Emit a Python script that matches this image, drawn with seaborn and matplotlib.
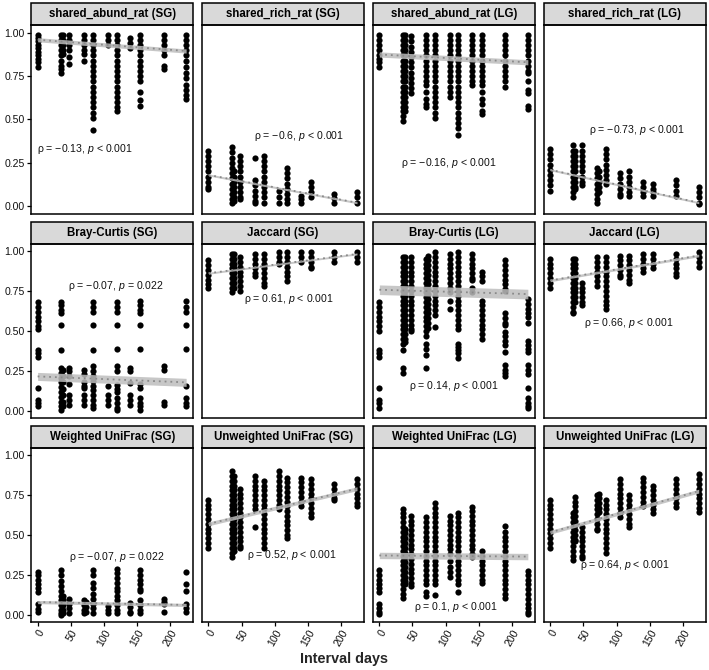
import pandas as pd
import matplotlib.pyplot as plt
import seaborn as sns
from matplotlib.patches import Rectangle

sns.set_theme(style="white")
plt.rcParams['font.family'] = ['Liberation Sans', 'DejaVu Sans']
plt.rcParams['mathtext.fontset'] = 'custom'
plt.rcParams['mathtext.rm'] = 'Liberation Sans'
plt.rcParams['mathtext.it'] = 'Liberation Sans:italic'

# interval days at which pairs were compared
days = [0, 35, 38, 48, 70, 73, 84, 106, 119, 140, 155, 190, 224]

titles = ['shared_abund_rat (SG)', 'shared_rich_rat (SG)', 'shared_abund_rat (LG)', 'shared_rich_rat (LG)',
          'Bray-Curtis (SG)', 'Jaccard (SG)', 'Bray-Curtis (LG)', 'Jaccard (LG)',
          'Weighted UniFrac (SG)', 'Unweighted UniFrac (SG)', 'Weighted UniFrac (LG)', 'Unweighted UniFrac (LG)']

# one list of y values per interval day (same order as days)
abund_sg = [[0.99, 0.97, 0.95, 0.93, 0.91, 0.89, 0.87, 0.85, 0.83, 0.80],
            [0.99, 0.96, 0.93, 0.90, 0.87, 0.84, 0.81, 0.79, 0.77],
            [0.99, 0.96, 0.93, 0.90, 0.88],
            [0.99, 0.96, 0.93, 0.90, 0.86, 0.82],
            [0.99, 0.96, 0.93, 0.90, 0.88, 0.84],
            [],
            [0.99, 0.96, 0.93, 0.90, 0.87, 0.84, 0.81, 0.78, 0.75, 0.72, 0.69, 0.66, 0.63, 0.60, 0.57, 0.54, 0.51, 0.44],
            [0.99, 0.96, 0.93],
            [0.99, 0.96, 0.93, 0.90, 0.87, 0.84, 0.81, 0.78, 0.75, 0.72, 0.69, 0.66, 0.63, 0.60, 0.57, 0.55],
            [0.97, 0.94, 0.91],
            [0.99, 0.96, 0.93, 0.90, 0.87, 0.84, 0.81, 0.78, 0.75, 0.72, 0.66, 0.61, 0.58],
            [0.99, 0.96, 0.93, 0.90, 0.87, 0.81, 0.79],
            [0.99, 0.96, 0.93, 0.90, 0.87, 0.84, 0.80, 0.77, 0.74, 0.70, 0.67, 0.64, 0.62]]

rich_sg = [[0.32, 0.29, 0.26, 0.23, 0.20, 0.17, 0.14, 0.11, 0.10],
           [0.34, 0.31, 0.28, 0.25, 0.22, 0.19, 0.16, 0.13, 0.10, 0.07, 0.04, 0.02],
           [0.20, 0.17, 0.14, 0.11, 0.08, 0.05, 0.03],
           [0.29, 0.26, 0.23, 0.20, 0.17, 0.14, 0.11, 0.08, 0.05, 0.04],
           [0.275, 0.15, 0.12, 0.09, 0.06, 0.03, 0.02],
           [],
           [0.29, 0.26, 0.23, 0.20, 0.17, 0.14, 0.11, 0.08, 0.05, 0.02],
           [0.085, 0.05, 0.02],
           [0.22, 0.19, 0.16, 0.13, 0.10, 0.07, 0.04, 0.02],
           [0.06, 0.04, 0.02],
           [0.14, 0.11, 0.08, 0.05],
           [0.07, 0.045, 0.02],
           [0.08, 0.05, 0.02]]

abund_lg = [[0.99, 0.96, 0.93, 0.90, 0.87, 0.85, 0.83, 0.80],
            [0.99, 0.96, 0.93, 0.90, 0.87, 0.84, 0.81, 0.78, 0.75, 0.72, 0.69, 0.66, 0.63, 0.60, 0.57, 0.55, 0.52, 0.49],
            [0.99, 0.96, 0.93, 0.90, 0.87, 0.84, 0.81, 0.78, 0.75, 0.72, 0.69, 0.66, 0.63, 0.60, 0.57, 0.55],
            [0.98, 0.95, 0.92, 0.89, 0.86, 0.83, 0.80, 0.77, 0.74, 0.71, 0.68, 0.65],
            [0.99, 0.96, 0.93, 0.90, 0.87, 0.84, 0.81, 0.78, 0.75, 0.72, 0.70, 0.66, 0.62, 0.59, 0.57],
            [],
            [0.99, 0.96, 0.93, 0.90, 0.87, 0.84, 0.81, 0.78, 0.75, 0.72, 0.69, 0.66, 0.63, 0.60, 0.57, 0.54, 0.51],
            [0.99, 0.96, 0.93, 0.90, 0.87, 0.84, 0.81, 0.78, 0.75, 0.72, 0.69, 0.66, 0.63],
            [0.99, 0.96, 0.93, 0.90, 0.87, 0.84, 0.81, 0.78, 0.75, 0.72, 0.69, 0.66, 0.63, 0.60, 0.57, 0.54, 0.51,
             0.48, 0.45, 0.41],
            [0.99, 0.96, 0.93, 0.90, 0.87, 0.84, 0.81, 0.78, 0.75, 0.72, 0.70],
            [0.99, 0.96, 0.93, 0.90, 0.87, 0.84, 0.81, 0.78, 0.75, 0.72, 0.70, 0.66, 0.62, 0.59, 0.55, 0.53],
            [0.99, 0.96, 0.93, 0.90, 0.87, 0.84, 0.81, 0.78, 0.75, 0.72, 0.69],
            [0.99, 0.96, 0.93, 0.90, 0.87, 0.84, 0.81, 0.78, 0.77, 0.72, 0.67, 0.655, 0.58, 0.56]]

rich_lg = [[0.33, 0.30, 0.27, 0.24, 0.21, 0.18, 0.15, 0.12, 0.09],
           [0.35, 0.32, 0.29, 0.26, 0.23, 0.20, 0.17, 0.14, 0.11, 0.08, 0.05],
           [0.32, 0.29, 0.26, 0.23, 0.20, 0.17, 0.14, 0.11, 0.10],
           [0.35, 0.32, 0.29, 0.26, 0.23, 0.20, 0.17, 0.14, 0.12],
           [0.22, 0.19, 0.16, 0.13, 0.10, 0.07, 0.04, 0.02],
           [0.20, 0.17, 0.14, 0.11, 0.08],
           [0.33, 0.30, 0.27, 0.24, 0.21, 0.18, 0.15, 0.13],
           [0.19, 0.16, 0.13, 0.10, 0.07, 0.06],
           [0.20, 0.17, 0.14, 0.11, 0.08, 0.06],
           [0.14, 0.11, 0.08, 0.06],
           [0.13, 0.10, 0.08, 0.06],
           [0.15, 0.12, 0.09, 0.06],
           [0.11, 0.08, 0.05, 0.02, 0.01]]

bray_sg = [[0.68, 0.65, 0.62, 0.59, 0.56, 0.53, 0.51, 0.38, 0.36, 0.34, 0.145, 0.07, 0.05, 0.03],
           [0.68, 0.66, 0.63, 0.61, 0.54, 0.38, 0.27, 0.24, 0.21, 0.18, 0.15, 0.12, 0.09, 0.06, 0.03, 0.01],
           [0.26, 0.22, 0.18, 0.14, 0.10, 0.06, 0.03],
           [0.27, 0.25, 0.22, 0.17, 0.10, 0.07, 0.04],
           [0.26, 0.23, 0.185, 0.16, 0.145, 0.10, 0.07, 0.04],
           [],
           [0.68, 0.65, 0.62, 0.535, 0.38, 0.28, 0.25, 0.22, 0.19, 0.16, 0.13, 0.10, 0.07, 0.04, 0.02],
           [0.155, 0.10, 0.07, 0.04],
           [0.68, 0.65, 0.62, 0.54, 0.385, 0.28, 0.25, 0.165, 0.14, 0.12, 0.08, 0.05, 0.02, 0.01],
           [0.27, 0.25, 0.175, 0.10, 0.07, 0.04],
           [0.69, 0.66, 0.63, 0.61, 0.54, 0.385, 0.17, 0.145, 0.08, 0.05, 0.03, 0.01],
           [0.28, 0.26, 0.06, 0.04],
           [0.69, 0.65, 0.62, 0.54, 0.39, 0.16, 0.08, 0.05, 0.03]]

jacc_sg = [[0.94, 0.91, 0.88, 0.85, 0.82, 0.79, 0.77],
           [0.98, 0.95, 0.92, 0.89, 0.86, 0.83, 0.80, 0.77, 0.74],
           [0.98, 0.95, 0.92, 0.89, 0.86, 0.83, 0.80, 0.77],
           [0.96, 0.93, 0.90, 0.87, 0.84, 0.81, 0.78, 0.75],
           [0.98, 0.95, 0.92, 0.89, 0.86, 0.845],
           [],
           [0.98, 0.95, 0.92, 0.89, 0.86, 0.83, 0.80, 0.78],
           [0.99, 0.96, 0.93, 0.92],
           [0.99, 0.96, 0.93, 0.90, 0.87, 0.84, 0.81],
           [0.99, 0.96, 0.93],
           [0.99, 0.96, 0.93, 0.90, 0.89],
           [0.99, 0.96, 0.93],
           [0.99, 0.96, 0.93]]

bray_lg = [[0.68, 0.65, 0.62, 0.59, 0.56, 0.53, 0.50, 0.38, 0.36, 0.34, 0.145, 0.07, 0.05, 0.02],
           [0.96, 0.93, 0.90, 0.87, 0.84, 0.81, 0.78, 0.75, 0.72, 0.69, 0.66, 0.63, 0.60, 0.57, 0.54, 0.51, 0.48,
            0.45, 0.42, 0.38, 0.27, 0.24],
           [0.96, 0.93, 0.90, 0.87, 0.84, 0.81, 0.78, 0.75, 0.72, 0.69, 0.66, 0.63, 0.60, 0.57, 0.54, 0.51, 0.48,
            0.45, 0.43],
           [0.96, 0.93, 0.90, 0.87, 0.84, 0.81, 0.78, 0.75, 0.72, 0.69, 0.66, 0.63, 0.60, 0.57, 0.54, 0.51, 0.50],
           [0.95, 0.92, 0.89, 0.86, 0.83, 0.80, 0.77, 0.74, 0.71, 0.68, 0.65, 0.62, 0.59, 0.56, 0.53, 0.50, 0.47,
            0.42, 0.39, 0.35, 0.27],
           [0.97, 0.94, 0.91, 0.88, 0.85, 0.82, 0.79, 0.76, 0.73, 0.70, 0.67, 0.64, 0.61, 0.58, 0.55, 0.52],
           [0.99, 0.96, 0.93, 0.90, 0.87, 0.84, 0.81, 0.78, 0.75, 0.72, 0.69, 0.66, 0.63, 0.60, 0.525],
           [0.98, 0.95, 0.92, 0.89, 0.86, 0.83, 0.80, 0.77, 0.74, 0.69, 0.64],
           [0.99, 0.96, 0.93, 0.90, 0.87, 0.84, 0.81, 0.78, 0.75, 0.72, 0.69, 0.66, 0.63, 0.60, 0.57, 0.54, 0.515,
            0.42, 0.40, 0.38, 0.36, 0.33],
           [0.98, 0.95, 0.92, 0.89, 0.86, 0.83, 0.82, 0.77, 0.74],
           [0.87, 0.84, 0.81, 0.69, 0.66, 0.63, 0.60, 0.57, 0.54, 0.51, 0.48, 0.45],
           [0.94, 0.91, 0.88, 0.85, 0.82, 0.79, 0.76, 0.75, 0.61, 0.58, 0.55, 0.535, 0.495, 0.47, 0.44, 0.41, 0.37,
            0.29, 0.26, 0.24, 0.22],
           [0.70, 0.67, 0.64, 0.61, 0.59, 0.55, 0.44, 0.41, 0.39, 0.37, 0.29, 0.26, 0.23, 0.145, 0.08, 0.05, 0.03,
            0.02]]

jacc_lg = [[0.95, 0.92, 0.89, 0.86, 0.83, 0.80, 0.77],
           [0.95, 0.92, 0.89, 0.86, 0.83, 0.80, 0.77, 0.74, 0.71, 0.68, 0.65, 0.62, 0.61],
           [0.95, 0.92, 0.89, 0.86, 0.83, 0.80, 0.77, 0.74, 0.71, 0.68],
           [0.80, 0.77, 0.74, 0.71, 0.68, 0.66],
           [0.96, 0.93, 0.90, 0.87, 0.84, 0.81, 0.78],
           [],
           [0.96, 0.93, 0.90, 0.87, 0.84, 0.81, 0.78, 0.75, 0.72, 0.69, 0.66, 0.64],
           [0.97, 0.94, 0.91, 0.88, 0.85, 0.835],
           [0.97, 0.94, 0.91, 0.88, 0.85, 0.82, 0.80],
           [0.98, 0.95, 0.92, 0.89, 0.87],
           [0.98, 0.95, 0.92, 0.89],
           [0.98, 0.95, 0.92, 0.89, 0.86, 0.845],
           [0.99, 0.96, 0.93, 0.90]]

wuni_sg = [[0.27, 0.25, 0.22, 0.19, 0.17, 0.14, 0.066, 0.035, 0.015],
           [0.28, 0.25, 0.21, 0.18, 0.15, 0.12, 0.09, 0.06, 0.03, 0.01, 0.0],
           [0.12, 0.09, 0.06, 0.03, 0.01],
           [0.10, 0.07, 0.04, 0.01],
           [0.09, 0.06, 0.03, 0.01],
           [0.08, 0.05, 0.02],
           [0.28, 0.25, 0.20, 0.17, 0.13, 0.10, 0.07, 0.04, 0.01],
           [0.056, 0.03, 0.01],
           [0.29, 0.26, 0.23, 0.20, 0.17, 0.15, 0.12, 0.09, 0.06, 0.03, 0.01],
           [0.076, 0.05, 0.02, 0.01],
           [0.28, 0.25, 0.22, 0.19, 0.16, 0.15, 0.09, 0.06, 0.03, 0.01],
           [0.10, 0.08, 0.066, 0.015],
           [0.27, 0.19, 0.15, 0.066, 0.04, 0.015]]

uuni_sg = [[0.72, 0.69, 0.66, 0.63, 0.60, 0.57, 0.54, 0.51, 0.48, 0.45, 0.42],
           [0.90, 0.87, 0.84, 0.81, 0.78, 0.75, 0.72, 0.69, 0.66, 0.63, 0.60, 0.57, 0.54, 0.51, 0.48, 0.45, 0.42,
            0.39, 0.36],
           [0.87, 0.84, 0.81, 0.78, 0.75, 0.72, 0.69, 0.66, 0.63, 0.60, 0.57, 0.54, 0.51, 0.48, 0.45, 0.42, 0.40],
           [0.79, 0.76, 0.73, 0.70, 0.67, 0.64, 0.61, 0.58, 0.55, 0.52, 0.49, 0.46, 0.43, 0.42],
           [0.87, 0.84, 0.81, 0.78, 0.75, 0.72, 0.69, 0.66, 0.55],
           [],
           [0.84, 0.81, 0.78, 0.75, 0.72, 0.69, 0.66, 0.63, 0.60, 0.57, 0.54, 0.51, 0.48, 0.45, 0.42],
           [0.90, 0.87, 0.84, 0.81, 0.78, 0.75, 0.72, 0.69, 0.665],
           [0.86, 0.83, 0.80, 0.77, 0.74, 0.71, 0.68, 0.65, 0.62, 0.59, 0.56, 0.53, 0.50, 0.48],
           [0.86, 0.83, 0.80, 0.77, 0.74, 0.71, 0.685],
           [0.85, 0.82, 0.79, 0.76, 0.73, 0.70, 0.67, 0.64, 0.61],
           [0.82, 0.79, 0.76, 0.73, 0.72],
           [0.85, 0.82, 0.79, 0.76, 0.73, 0.70, 0.685]]

wuni_lg = [[0.28, 0.25, 0.22, 0.19, 0.17, 0.14, 0.066, 0.04, 0.02, 0.005],
           [0.665, 0.64, 0.61, 0.58, 0.55, 0.52, 0.49, 0.46, 0.43, 0.40, 0.37, 0.34, 0.31, 0.28, 0.25, 0.22, 0.19,
            0.16, 0.13, 0.107],
           [0.54, 0.51, 0.48, 0.45, 0.42, 0.39, 0.36, 0.33, 0.30, 0.27, 0.24, 0.21, 0.19],
           [0.62, 0.59, 0.56, 0.53, 0.50, 0.47, 0.44, 0.41, 0.38, 0.35, 0.32, 0.29, 0.26, 0.23, 0.20, 0.18],
           [0.61, 0.58, 0.55, 0.52, 0.49, 0.46, 0.43, 0.40, 0.37, 0.34, 0.31, 0.28, 0.25, 0.22, 0.19, 0.14, 0.12],
           [],
           [0.70, 0.67, 0.64, 0.61, 0.58, 0.55, 0.52, 0.49, 0.46, 0.43, 0.40, 0.37, 0.34, 0.31, 0.28, 0.25, 0.22,
            0.19, 0.124],
           [0.62, 0.59, 0.56, 0.53, 0.50, 0.47, 0.44, 0.41, 0.38, 0.335, 0.30, 0.27, 0.24],
           [0.635, 0.61, 0.58, 0.55, 0.52, 0.49, 0.46, 0.43, 0.40, 0.37, 0.34, 0.31, 0.28, 0.25, 0.22, 0.19, 0.14],
           [0.675, 0.65, 0.62, 0.59, 0.56, 0.53, 0.50, 0.47, 0.44, 0.41, 0.38, 0.36],
           [0.40, 0.37, 0.34, 0.31, 0.28, 0.25, 0.22, 0.20],
           [0.558, 0.52, 0.49, 0.46, 0.43, 0.40, 0.37, 0.34, 0.31, 0.28, 0.25, 0.22, 0.19, 0.16, 0.13, 0.107],
           [0.273, 0.25, 0.22, 0.19, 0.16, 0.13, 0.10, 0.07, 0.04, 0.02, 0.005]]

uuni_lg = [[0.72, 0.69, 0.66, 0.63, 0.60, 0.57, 0.54, 0.51, 0.48, 0.45, 0.42],
           [0.635, 0.61, 0.58, 0.55, 0.52, 0.49, 0.46, 0.43, 0.40, 0.37, 0.345],
           [0.74, 0.71, 0.68, 0.65, 0.62, 0.59, 0.56, 0.53, 0.50, 0.47, 0.46],
           [0.55, 0.52, 0.49, 0.46, 0.43, 0.40, 0.37, 0.355],
           [0.75, 0.72, 0.69, 0.66, 0.63, 0.60, 0.57, 0.54, 0.53],
           [0.76, 0.73, 0.70, 0.67, 0.645],
           [0.72, 0.69, 0.66, 0.63, 0.60, 0.57, 0.54, 0.51, 0.48, 0.45, 0.42, 0.39],
           [0.85, 0.82, 0.79, 0.76, 0.73, 0.70, 0.67, 0.64, 0.61],
           [0.75, 0.72, 0.69, 0.66, 0.63, 0.60, 0.57, 0.55],
           [0.86, 0.83, 0.80, 0.77, 0.74, 0.71, 0.685],
           [0.805, 0.78, 0.75, 0.72, 0.69, 0.66, 0.635],
           [0.85, 0.82, 0.79, 0.76, 0.73, 0.70, 0.675],
           [0.88, 0.85, 0.82, 0.79, 0.76, 0.73, 0.70, 0.67, 0.645]]

panel_values = [abund_sg, rich_sg, abund_lg, rich_lg, bray_sg, jacc_sg, bray_lg, jacc_lg,
                wuni_sg, uuni_sg, wuni_lg, uuni_lg]

# fitted line (value at first and last interval day) and ci half width
fit_start = [0.96, 0.18, 0.875, 0.21, 0.217, 0.86, 0.757, 0.815, 0.08, 0.57, 0.372, 0.517]
fit_end = [0.895, 0.02, 0.83, 0.02, 0.18, 0.98, 0.73, 0.97, 0.062, 0.79, 0.365, 0.775]
fit_ci = [0.012, 0.006, 0.015, 0.006, 0.025, 0.006, 0.03, 0.008, 0.01, 0.012, 0.02, 0.012]

# spearman labels
rho = ['−0.13', '−0.6', '−0.16', '−0.73', '−0.07', '0.61', '0.14', '0.66', '−0.07', '0.52', '0.1', '0.64']
p_text = ['< 0.001', '< 0.001', '< 0.001', '< 0.001', '= 0.022', '< 0.001', '< 0.001', '< 0.001',
          '= 0.022', '< 0.001', '< 0.001', '< 0.001']
label_x = [71, 136, 105, 131, 118, 121, 113, 118, 120, 126, 115, 113]
label_y = [0.33, 0.405, 0.25, 0.44, 0.78, 0.70, 0.155, 0.55, 0.36, 0.376, 0.05, 0.31]

df = pd.DataFrame([(t, d, y) for t, strips in zip(titles, panel_values)
                   for d, ys in zip(days, strips) for y in ys],
                  columns=['metric', 'days', 'value'])

fig = plt.figure(figsize=(7.09, 6.70), dpi=100)
gs = fig.add_gridspec(3, 4, left=31 / 709, right=706 / 709, top=1 - 25 / 670, bottom=1 - 622 / 670,
                      hspace=0.165, wspace=0.052, height_ratios=[189, 175, 174])
axes = gs.subplots(sharex=True, sharey=True)

for i, ax in enumerate(axes.flat):
    sub = df[df.metric == titles[i]]
    sns.scatterplot(data=sub, x='days', y='value', color='black', s=20, linewidth=0, ax=ax, zorder=2)
    xs = [days[0], days[-1]]
    ys = [fit_start[i], fit_end[i]]
    ax.fill_between(xs, [y - fit_ci[i] for y in ys], [y + fit_ci[i] for y in ys],
                    color='#bdbdbd', alpha=0.85, lw=0, zorder=3)
    ax.plot(xs, ys, color='#8a8a8a', lw=1.3, ls=(0, (1, 2.2)), zorder=4)
    ax.text(label_x[i], label_y[i], f'ρ = {rho[i]}, $p$ {p_text[i]}', ha='center', va='center',
            fontsize=7.6, color='#111111', zorder=5)
    ax.set(xlabel='', ylabel='')
    for s in ax.spines.values():
        s.set_color('black')
        s.set_linewidth(1.1)

    # strip header on top of the panel
    h = 22 / (ax.get_position().height * 670)
    ax.add_patch(Rectangle((0, 1), 1, h, transform=ax.transAxes, clip_on=False,
                           facecolor='#d9d9d9', edgecolor='black', lw=1.1))
    ax.text(0.5, 1 + h / 2, titles[i], transform=ax.transAxes, ha='center', va='center',
            fontsize=8.3, fontweight='bold', color='black')

    row, col = divmod(i, 4)
    ax.tick_params(axis='both', length=3, width=0.9, color='black', labelsize=7.6,
                   labelcolor='#111111', pad=1.5)
    ax.tick_params(axis='x', bottom=(row == 2), labelbottom=(row == 2))
    ax.tick_params(axis='y', left=(col == 0), labelleft=(col == 0))

ax0 = axes[0, 0]
ax0.set_xlim(-10, 235)
ax0.set_ylim(-0.045, 1.045)
ax0.set_xticks([0, 50, 100, 150, 200])
ax0.set_yticks([0, 0.25, 0.5, 0.75, 1.0])
ax0.set_yticklabels(['0.00', '0.25', '0.50', '0.75', '1.00'])
for ax in axes[2]:
    plt.setp(ax.get_xticklabels(), rotation=60, ha='right', rotation_mode='anchor')

fig.text(344 / 709, 1 - 659 / 670, 'Interval days', ha='center', va='center',
         fontsize=10.4, fontweight='bold')

fig.savefig('out.png', dpi=100)
